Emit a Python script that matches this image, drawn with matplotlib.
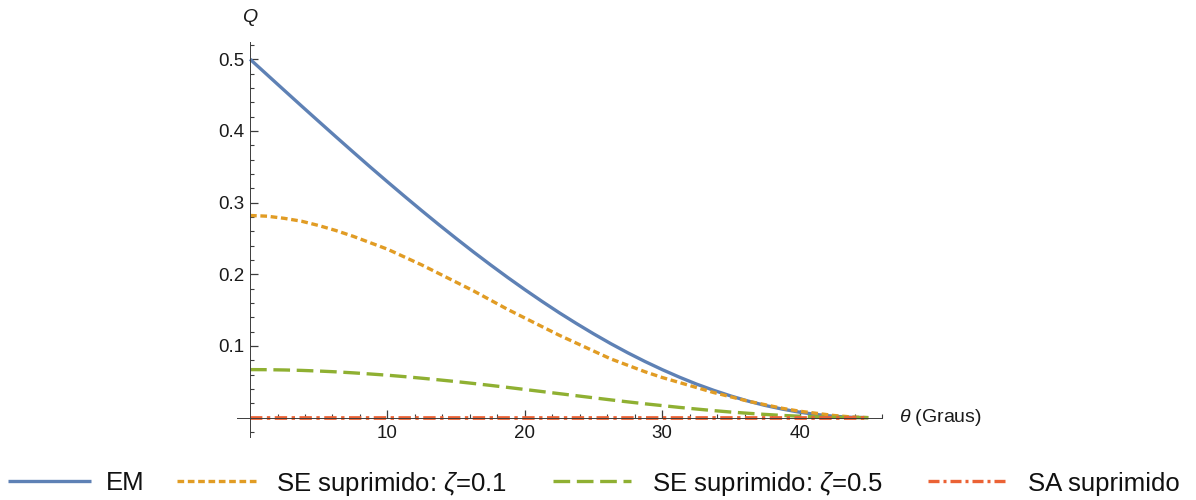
import matplotlib
matplotlib.use("Agg")
import matplotlib.pyplot as plt
from matplotlib.lines import Line2D
from matplotlib.ticker import FixedLocator

plt.rcParams["font.family"] = ["Liberation Sans", "DejaVu Sans"]
plt.rcParams["mathtext.fontset"] = "custom"
plt.rcParams["mathtext.it"] = "Liberation Sans:italic"
plt.rcParams["mathtext.rm"] = "Liberation Sans"

# Angle in degrees and the measure Q for each state
theta = [0, 1.25, 2.5, 3.75, 5, 6.25, 7.5, 8.75, 10, 11.25, 12.5, 13.75, 15,
         16.25, 17.5, 18.75, 20, 21.25, 22.5, 23.75, 25, 26.25, 27.5, 28.75,
         30, 31.25, 32.5, 33.75, 35, 36.25, 37.5, 38.75, 40, 41.25, 42.5,
         43.75, 45]
q_em = [0.5000, 0.4782, 0.4564, 0.4347, 0.4132, 0.3918, 0.3706, 0.3496,
        0.3290, 0.3087, 0.2887, 0.2691, 0.2500, 0.2313, 0.2132, 0.1956,
        0.1786, 0.1622, 0.1464, 0.1314, 0.1170, 0.1033, 0.0904, 0.0783,
        0.0670, 0.0565, 0.0468, 0.0381, 0.0302, 0.0231, 0.0170, 0.0119,
        0.0076, 0.0043, 0.0019, 0.0005, 0.0]
q_se_01 = [0.282, 0.281, 0.278, 0.274, 0.268, 0.261, 0.253, 0.244, 0.235,
           0.224, 0.213, 0.201, 0.189, 0.177, 0.164, 0.151, 0.139, 0.127,
           0.115, 0.104, 0.093, 0.082, 0.073, 0.064, 0.056, 0.049, 0.042,
           0.035, 0.029, 0.023, 0.018, 0.013, 0.009, 0.006, 0.003, 0.001, 0.0]
q_se_05 = [0.0670, 0.0669, 0.0665, 0.0659, 0.0650, 0.0639, 0.0625, 0.0609,
           0.0592, 0.0572, 0.0550, 0.0527, 0.0503, 0.0477, 0.0450, 0.0422,
           0.0393, 0.0364, 0.0335, 0.0306, 0.0277, 0.0248, 0.0220, 0.0193,
           0.0168, 0.0143, 0.0120, 0.0098, 0.0078, 0.0061, 0.0045, 0.0031,
           0.0020, 0.0011, 0.0005, 0.0001, 0.0]
q_sa = [0.0] * len(theta)

labels = ["EM", "SE suprimido: $\\zeta$=0.1", "SE suprimido: $\\zeta$=0.5", "SA suprimido"]
colors = ["#5E81B5", "#E19C24", "#8FB032", "#EB6235"]
dash_styles = [None, (2.0, 1.1), (5.0, 2.0), (3.3, 1.2, 0.9, 1.2)]

x_major = [10, 20, 30, 40]
y_major = [0.1, 0.2, 0.3, 0.4, 0.5]
y_labels = ["0.1", "0.2", "0.3", "0.4", "0.5"]

W, H = 1196, 500
fig = plt.figure(figsize=(W / 100, H / 100), dpi=100)
ax = fig.add_axes([237 / W, 63 / H, 645 / W, 395 / H])

lw = 2.4
series = [q_em, q_se_01, q_se_05, q_sa]
for ys, c, d in zip(series, colors, dash_styles):
    if d is None:
        ax.plot(theta, ys, color=c, lw=lw, solid_capstyle="butt")
    else:
        ax.plot(theta, ys, color=c, lw=lw + (0.3 if ys is q_sa else 0), dashes=d)

ax.set_xlim(-0.95, 46)
ax.set_ylim(-0.027, 0.524)

for side in ["top", "right"]:
    ax.spines[side].set_visible(False)
for side in ["left", "bottom"]:
    ax.spines[side].set_position(("data", 0))
    ax.spines[side].set_color("#3c3c3c")
    ax.spines[side].set_linewidth(0.7)
    ax.spines[side].set_zorder(5)

ax.xaxis.set_major_locator(FixedLocator(x_major))
ax.xaxis.set_minor_locator(FixedLocator([v for v in range(2, 47, 2) if v % 10]))
ax.yaxis.set_major_locator(FixedLocator(y_major))
y_minor = [round(-0.02 + 0.02 * i, 2) for i in range(28)]
y_minor = [v for v in y_minor if abs(v * 10 - round(v * 10)) > 1e-6]
ax.yaxis.set_minor_locator(FixedLocator(y_minor))
ax.set_xticklabels([str(v) for v in x_major])
ax.set_yticklabels(y_labels)

ax.tick_params(axis="both", which="major", direction="in", length=5.5, width=0.9,
               color="#3c3c3c", labelsize=13.5, labelcolor="#1a1a1a")
ax.tick_params(axis="both", which="minor", direction="in", length=3.2, width=0.8,
               color="#3c3c3c")
ax.tick_params(axis="x", which="major", pad=5)
ax.tick_params(axis="y", which="major", pad=4)

fig.text(250 / W, 1 - 18 / H, "$Q$", ha="center", va="center", fontsize=14, color="#1a1a1a")
fig.text(899 / W, 1 - 418 / H, "$\\theta$ (Graus)", ha="left", va="center",
         fontsize=14, color="#1a1a1a")

# Legend row along the bottom: handle span and text start, in pixels
legend_handles = [(8, 91), (177, 256), (553, 631), (928, 1006)]
legend_text_x = [106, 276, 652, 1028]
legend_y = 1 - 481 / H
for (x0, x1), tx, lab, c, d in zip(legend_handles, legend_text_x, labels, colors, dash_styles):
    kw = dict(color=c, lw=lw, transform=fig.transFigure)
    if d is not None:
        kw["dashes"] = d
    else:
        kw["solid_capstyle"] = "butt"
    fig.add_artist(Line2D([x0 / W, x1 / W], [legend_y, legend_y], **kw))
    fig.text(tx / W, legend_y, lab, ha="left", va="center_baseline", fontsize=18.5,
             color="#111111")

fig.savefig("out.png", dpi=100)
